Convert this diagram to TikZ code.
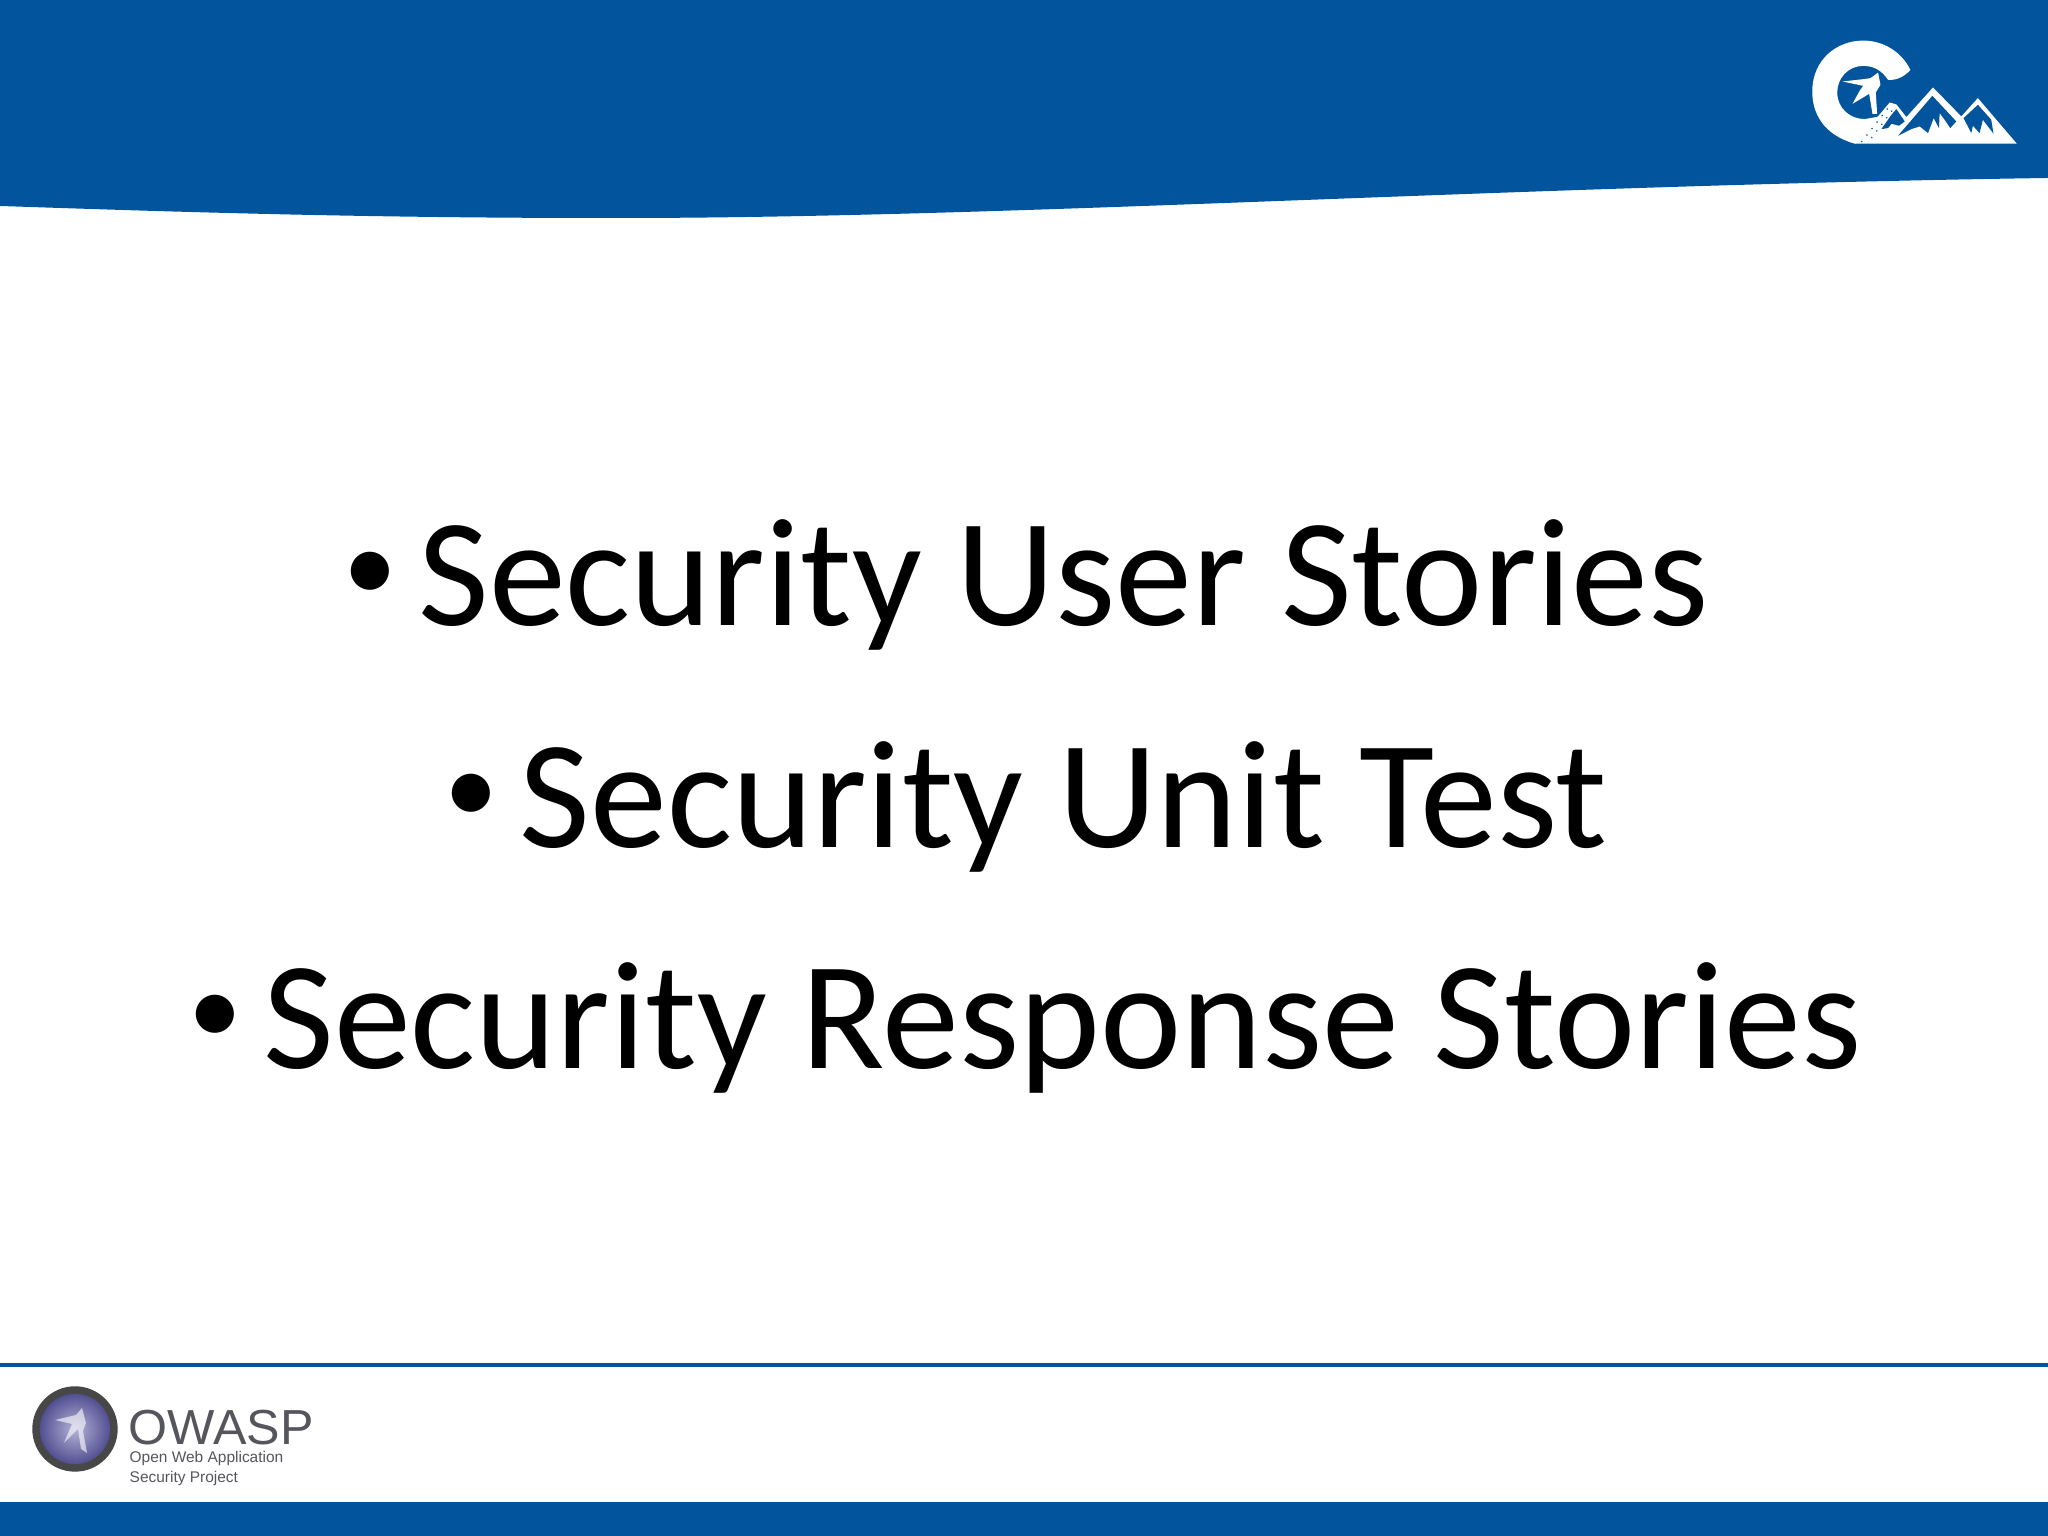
\documentclass[tikz,border=0pt]{standalone}
\usepackage{fontspec}
\setmainfont{Carlito}
\newfontfamily\owaspfont{Liberation Sans}
\usetikzlibrary{shadings}
\definecolor{owaspblue}{RGB}{2,85,157}
\definecolor{owaspgray}{RGB}{85,85,92}
\definecolor{globeblue}{RGB}{88,84,165}
\tikzstyle{item} = [anchor=base, font=\fontsize{43.8}{43.8}\selectfont, inner sep=0pt, text=black]
\tikzstyle{band} = [fill=owaspblue, draw=none]
\tikzstyle{snow} = [fill=white, draw=none]
\tikzstyle{cut} = [fill=owaspblue, draw=none]
\newcommand{\itemtext}[1]{\raisebox{0.16em}{\scalebox{0.7}{\textbullet}}\hspace{0.14em}#1}

\begin{document}
\begin{tikzpicture}
\useasboundingbox (0,0) rectangle (20.48,15.36);

% header and footer
\fill [band] (0,15.36) -- (20.48,15.36) -- (20.48,13.58)
  .. controls (15,13.50) and (10,13.17) .. (6,13.18)
  .. controls (3.5,13.18) and (1.5,13.25) .. (0,13.30) -- cycle;
\fill [band] (0,0) rectangle (20.48,0.34);
\fill [band] (0,1.73) rectangle (20.48,1.69);

\node [item] (story1) at (10.26,9.10) {\itemtext{Security User Stories}};
\node [item] (story2) at (10.26,6.88) {\itemtext{Security Unit Test}};
\node [item] (story3) at (10.25,4.67) {\itemtext{Security Response Stories}};

% chapter logo
\begin{scope}[shift={(17.8,15.16)},x=0.0033333cm,y=-0.0033333cm]
\fill [snow] (225,372) .. controls (130,345) and (97,280) .. (97,215)
  .. controls (97,120) and (170,62) .. (250,62)
  .. controls (310,62) and (365,95) .. (392,150)
  .. controls (375,170) and (350,182) .. (325,180)
  .. controls (305,150) and (280,138) .. (250,138)
  .. controls (205,138) and (172,175) .. (172,218)
  .. controls (172,265) and (210,298) .. (255,298) -- (300,290) -- (290,340) -- cycle;
\fill [snow] (225,372) -- (330,248) -- (350,254) -- (380,292) -- (460,203)
  -- (545,290) -- (595,235) -- (712,372) -- cycle;
\fill [cut] (350,268) -- (375,305) -- (358,318) -- (335,312) -- (325,325) -- (305,328) -- (335,285) -- cycle;
\fill [cut] (458,228) -- (530,305) -- (512,325) -- (495,300) -- (480,280) -- (478,325) -- (462,295)
  -- (445,340) -- (420,320) -- (395,328) -- (355,348) -- cycle;
\fill [cut] (595,255) -- (635,300) -- (642,342) -- (610,300) -- (600,340) -- (580,318) -- (575,340) -- (552,295) -- cycle;
\draw [owaspblue, line width=0.35pt, dotted] (245,367) -- (330,258);
\draw [owaspblue, line width=0.35pt, dotted] (275,355) -- (345,262);
% wasp
\fill [snow] (295,158) -- (302,195) -- (288,218) -- (292,282) -- (278,282) -- (268,222)
  -- (218,252) -- (240,212) -- (250,198) -- (188,185) -- (250,178) -- (272,175) -- cycle;
\end{scope}

% footer logo
\shade [inner color=globeblue!45, outer color=globeblue!85!black] (0.75,1.07) circle (0.38);
\draw [line width=2.1pt, draw=black!72] (0.75,1.07) circle (0.39);
\begin{scope}[shift={(0.75,1.07)}]
\fill [white, opacity=0.6] (0.07,0.21) -- (0.11,0.06) -- (0.08,-0.02) -- (0.12,-0.24) -- (0.06,-0.20)
  -- (0.03,0.0) -- (-0.11,-0.14) -- (-0.03,0.05) -- (-0.2,0.09) -- (0.01,0.14) -- cycle;
\end{scope}

\node [anchor=base west, inner sep=0pt, text=owaspgray] (owaspname) at (1.28,0.91)
  {\owaspfont\fontsize{14}{14}\selectfont\scalebox{1.02}[1]{OWASP}};
\node [anchor=base west, inner sep=0pt, text=owaspgray, align=left,
  font=\owaspfont\fontsize{4.4}{5.7}\selectfont] (owaspsub) at (1.29,0.53)
  {Open Web Application\\Security Project};
\end{tikzpicture}
\end{document}
